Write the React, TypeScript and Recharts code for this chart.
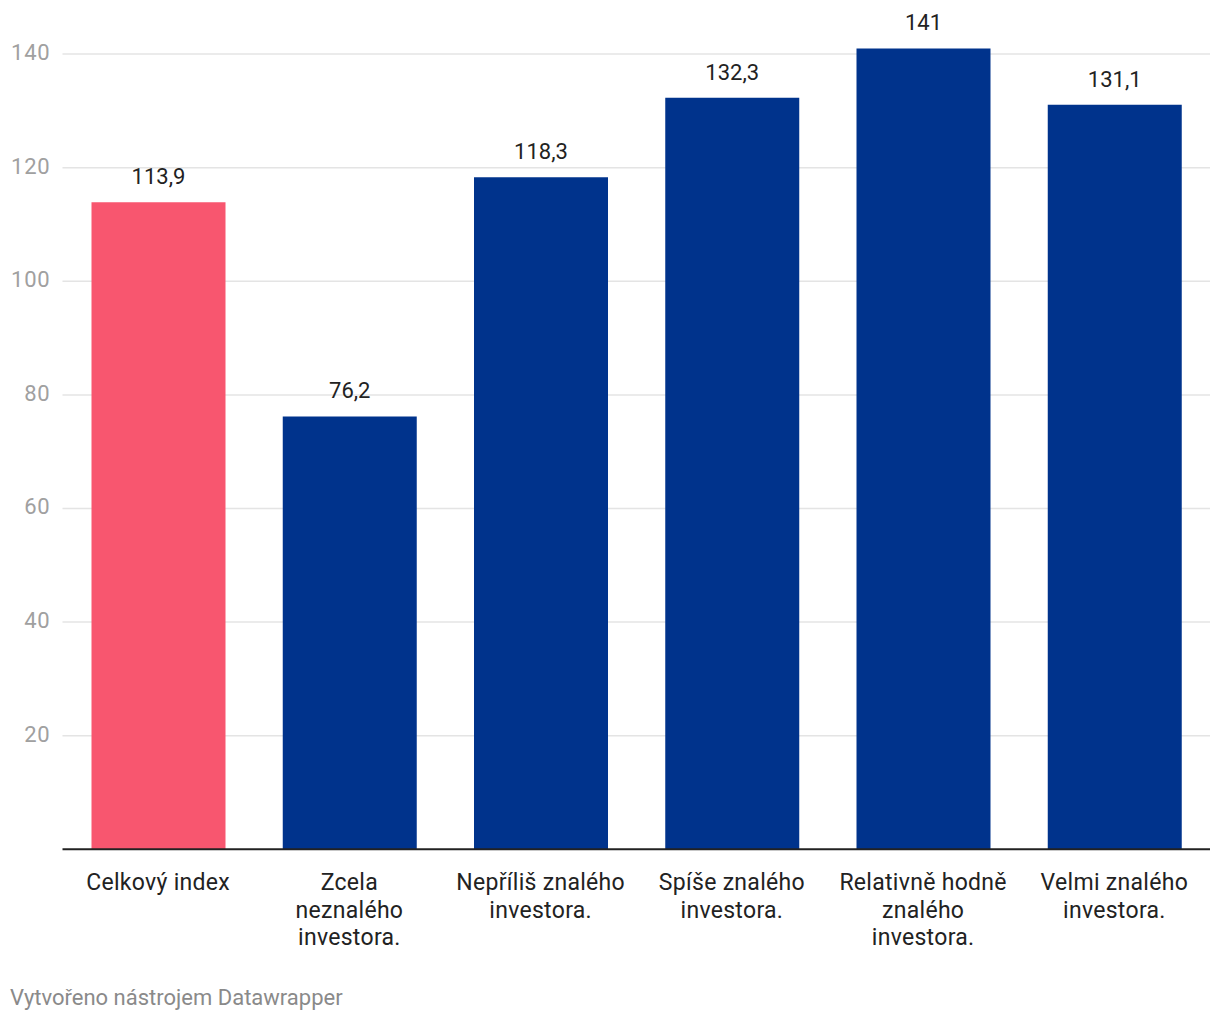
import React from "react";
import { BarChart, Bar, XAxis, YAxis, Cell, LabelList, CartesianGrid } from "recharts";

const categories = [
  "Celkový index",
  "Zcela\nneznalého\ninvestora.",
  "Nepříliš znalého\ninvestora.",
  "Spíše znalého\ninvestora.",
  "Relativně hodně\nznalého\ninvestora.",
  "Velmi znalého\ninvestora.",
];
const values = [113.9, 76.2, 118.3, 132.3, 141, 131.1];
const colors = ["#f8566f", "#00338c", "#00338c", "#00338c", "#00338c", "#00338c"];
const yTicks = [20, 40, 60, 80, 100, 120, 140];
const footer = "Vytvořeno nástrojem Datawrapper";

const data = categories.map((c, i) => ({ name: c, value: values[i] }));

const FONT = "Roboto, 'Noto Sans', sans-serif";

const fmt = (v: number) => String(v).replace(".", ",");

const XTick = (props: any) => {
  const { x, y, payload } = props;
  const lines = String(payload.value).split("\n");
  return (
    <text x={x} y={y} textAnchor="middle" fontFamily={FONT} fontSize={23} fill="#222" letterSpacing={0.3}>
      {lines.map((l: string, i: number) => (
        <tspan key={i} x={x} y={y + 32.4 + i * 27.8}>
          {l}
        </tspan>
      ))}
    </text>
  );
};

const YTick = (props: any) => {
  const { y, payload } = props;
  return (
    <text x={50.5} y={y + 6} textAnchor="end" fontFamily={FONT} fontSize={22} fill="#a0a0a0" letterSpacing={0.8}>
      {payload.value}
    </text>
  );
};

const ValueLabel = (props: any) => {
  const { x, y, width, value } = props;
  return (
    <text x={x + width / 2} y={y - 18} textAnchor="middle" fontFamily={FONT} fontSize={22} fill="#222">
      {fmt(value)}
    </text>
  );
};

export default function App() {
  return (
    <div style={{ position: "absolute", left: 0, top: 0, width: 1220, height: 1020, background: "#fff" }}>
      <BarChart
        width={1220}
        height={1020}
        data={data}
        margin={{ top: 48.4, right: 10, left: 0, bottom: 70.7 }}
      >
        <CartesianGrid
          vertical={false}
          stroke="#e4e4e4"
          strokeWidth={1.5}
          horizontalValues={yTicks}
        />
        <YAxis
          width={62.5}
          domain={[0, 141]}
          ticks={yTicks}
          axisLine={false}
          tickLine={false}
          tick={<YTick />}
          interval={0}
        />
        <XAxis
          dataKey="name"
          height={100}
          axisLine={{ stroke: "#222", strokeWidth: 2 }}
          tickLine={false}
          tick={<XTick />}
          interval={0}
        />
        <Bar dataKey="value" barSize={134} isAnimationActive={false}>
          {data.map((d, i) => (
            <Cell key={i} fill={colors[i]} />
          ))}
          <LabelList dataKey="value" content={<ValueLabel />} />
        </Bar>
      </BarChart>
      <div
        style={{
          position: "absolute",
          left: 10,
          top: 986,
          fontFamily: FONT,
          fontSize: 22,
          lineHeight: "24px",
          color: "#8a8a8a",
          whiteSpace: "nowrap",
        }}
      >
        {footer}
      </div>
    </div>
  );
}
